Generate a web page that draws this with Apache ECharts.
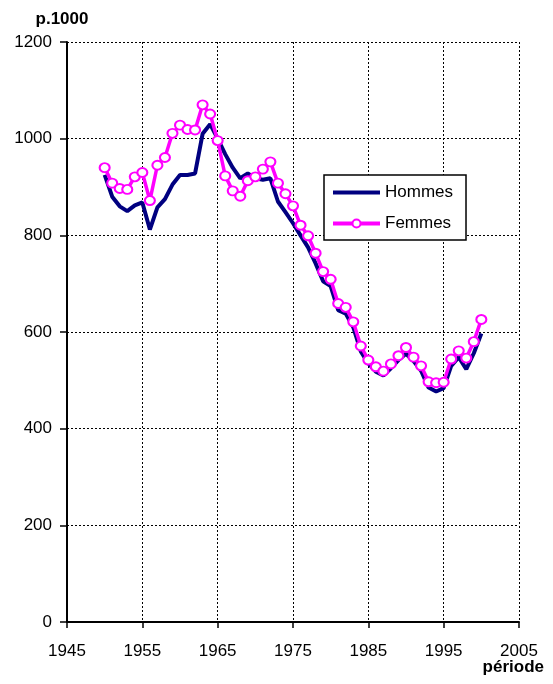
<!DOCTYPE html>
<html>
<head>
<meta charset="utf-8">
<script src="https://cdn.jsdelivr.net/npm/echarts@6/dist/echarts.min.js"></script>
<style>html,body{margin:0;padding:0;background:#fff}#c{width:553px;height:684px}</style>
</head>
<body>
<div id="c"></div>
<script>
const years = [];
for (let y = 1950; y <= 2000; y++) years.push(y);
const hommes = [925,880,860,850,862,868,812,858,875,905,925,925,928,1010,1030,1000,968,940,918,928,918,915,918,870,848,825,800,775,742,705,695,645,638,610,560,535,518,510,525,542,555,540,520,485,477,484,530,548,523,556,597];
const femmes = [940,908,897,895,921,930,872,945,961,1011,1028,1019,1018,1070,1051,996,923,892,881,913,921,937,952,908,886,861,821,799,763,725,709,659,651,621,571,542,528,519,534,551,568,548,530,497,495,496,544,561,546,580,626];
const xTicks = [1945,1955,1965,1975,1985,1995,2005];
const yTicks = [0,200,400,600,800,1000,1200];
const xName = 'période';
const yName = 'p.1000';

const font = 'Liberation Sans, Arial, sans-serif';
const chart = echarts.init(document.getElementById('c'));
chart.setOption({
  animation: false,
  backgroundColor: '#fff',
  textStyle: {fontFamily: font},
  title: {
    text: xName, right: 9, top: 659, padding: 0,
    textStyle: {fontFamily: font, fontSize: 17, fontWeight: 'bold', color: '#000'}
  },
  grid: {left: 67, right: 34, top: 42, bottom: 62, containLabel: false, outerBoundsMode: 'none'},
  legend: {
    left: 324, top: 175, orient: 'vertical',
    borderColor: '#000', borderWidth: 1.5, backgroundColor: '#fff',
    padding: [9, 13, 8, 7], itemGap: 14, itemWidth: 47, itemHeight: 10,
    textStyle: {fontFamily: font, fontSize: 17, color: '#000'},
    data: [
      {name: 'Hommes', itemStyle: {opacity: 0}, lineStyle: {width: 4}},
      {name: 'Femmes', lineStyle: {width: 4}}
    ]
  },
  xAxis: {
    type: 'value', min: xTicks[0], max: xTicks[xTicks.length-1], interval: 10,
    axisLine: {lineStyle: {color: '#000', width: 2}},
    axisTick: {show: true, length: 6, lineStyle: {color: '#000', width: 1.5}},
    axisLabel: {color: '#000', fontSize: 17, fontFamily: font, margin: 21, formatter: v => String(v)},
    splitLine: {show: true, lineStyle: {color: '#000', type: [2, 2], width: 1}}
  },
  yAxis: {
    type: 'value', min: yTicks[0], max: yTicks[yTicks.length-1], interval: 200,
    name: yName, nameLocation: 'end', nameGap: 23,
    nameTextStyle: {fontFamily: font, fontSize: 17, fontWeight: 'bold', color: '#000', align: 'center', verticalAlign: 'middle', padding: [0, 10, 0, 0]},
    axisLine: {show: true, lineStyle: {color: '#000', width: 2}},
    axisTick: {show: true, length: 7, lineStyle: {color: '#000', width: 1.5}},
    axisLabel: {color: '#000', fontSize: 17, fontFamily: font, margin: 15, formatter: v => String(v)},
    splitLine: {show: true, lineStyle: {color: '#000', type: [2, 2], width: 1}}
  },
  series: [
    {
      name: 'Hommes', type: 'line', symbol: 'none',
      data: years.map((y, i) => [y, hommes[i]]),
      lineStyle: {color: '#000080', width: 4}, itemStyle: {color: '#000080'}, z: 2
    },
    {
      name: 'Femmes', type: 'line', symbol: 'circle', symbolSize: [10, 9],
      data: years.map((y, i) => [y, femmes[i]]),
      lineStyle: {color: '#ff00ff', width: 3.5},
      itemStyle: {color: '#fff', borderColor: '#ff00ff', borderWidth: 2}, z: 3
    }
  ]
});
</script>
</body>
</html>
